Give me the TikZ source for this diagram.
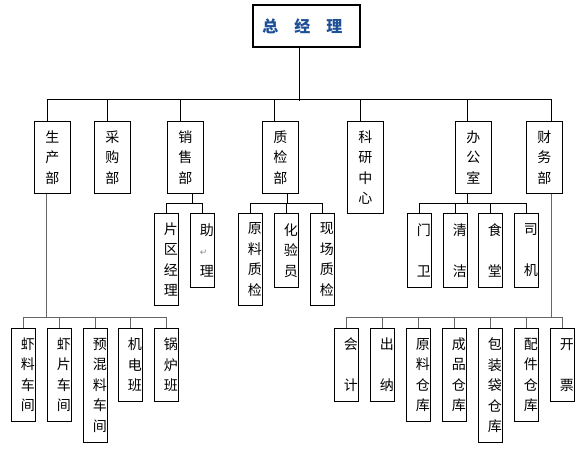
\documentclass[tikz,border=0pt]{standalone}
\usepackage{fontspec}
\setmainfont{Noto Sans CJK SC}
\newfontfamily\symfont{DejaVu Sans}
\definecolor{titleblue}{RGB}{30,80,150}

\begin{document}
\begin{tikzpicture}[
  x=1pt, y=-1pt,
  head/.style={rectangle, draw, line width=1.6pt, anchor=north west, minimum width=107pt, minimum height=42pt, font=\fontsize{16}{18}\selectfont\bfseries, text=titleblue},
  dept/.style={rectangle, draw, line width=0.8pt, anchor=north west, minimum width=36pt, minimum height=72pt, inner sep=0pt, align=center, font=\fontsize{14}{20.5}\selectfont},
  unit/.style={rectangle, draw, line width=0.8pt, anchor=north west, minimum width=24pt, inner sep=0pt, text width=23pt, align=right, font=\fontsize{14}{20.5}\selectfont},
  line/.style={draw, line width=0.8pt},
  gline/.style={draw, black!60, line width=1pt}
]
\useasboundingbox (0,0) rectangle (580,454);

\node[head] (gm) at (252,4) {\raisebox{-4pt}{总\hspace{16pt}经\hspace{16pt}理}\hspace*{8pt}};

\node[dept] (sc) at (34,121) {生\\产\\部};
\node[dept] (cg) at (94,121) {采\\购\\部};
\node[dept] (xs) at (167,121) {销\\售\\部};
\node[dept] (zj) at (262,121) {质\\检\\部};
\node[dept, minimum height=92pt] (ky) at (347,121) {科\\研\\中\\心};
\node[dept] (bg) at (455,121) {办\\公\\室};
\node[dept] (cw) at (526,121) {财\\务\\部};

\node[unit, minimum height=92pt] (pq) at (154,213) {片\\区\\经\\理};
\node[unit, minimum height=74pt] (zl) at (190,213) {助\\\makebox[14pt][l]{\symfont\color{black!45}\small ↵}\\理};

\node[unit, minimum height=92pt] (ylzj) at (238,213) {原\\料\\质\\检};
\node[unit, minimum height=74pt] (hy) at (274,213) {化\\验\\员};
\node[unit, minimum height=92pt] (xczj) at (310,213) {现\\场\\质\\检};

\node[unit, minimum height=74pt] (mw) at (407,213) {门\\\mbox{}\\卫};
\node[unit, minimum height=74pt] (qj) at (443,213) {清\\\mbox{}\\洁};
\node[unit, minimum height=74pt] (st) at (478,213) {食\\\mbox{}\\堂};
\node[unit, minimum height=74pt] (sj) at (514,213) {司\\\mbox{}\\机};

\node[unit, minimum height=93pt] (xl) at (11,328) {虾\\料\\车\\间};
\node[unit, minimum height=93pt] (xp) at (47,328) {虾\\片\\车\\间};
\node[unit, minimum height=114pt] (yhl) at (83,328) {预\\混\\料\\车\\间};
\node[unit, minimum height=73pt] (jd) at (118,328) {机\\电\\班};
\node[unit, minimum height=73pt] (gl) at (154,328) {锅\\炉\\班};

\node[unit, minimum height=73pt] (kj) at (334,328) {会\\\mbox{}\\计};
\node[unit, minimum height=73pt] (cn) at (370,328) {出\\\mbox{}\\纳};
\node[unit, minimum height=93pt] (ylck) at (406,328) {原\\料\\仓\\库};
\node[unit, minimum height=93pt] (cpck) at (442,328) {成\\品\\仓\\库};
\node[unit, minimum height=114pt] (bzd) at (478,328) {包\\装\\袋\\仓\\库};
\node[unit, minimum height=93pt] (pjck) at (514,328) {配\\件\\仓\\库};
\node[unit, minimum height=73pt] (kp) at (550,328) {开\\\mbox{}\\票};

\path[line] ([xshift=-6.5pt]gm.south) -- ++(0,53);
\path[line] ([xshift=-5.5pt]sc.north) -- ++(0,-22) -| ([xshift=7pt]cw.north);
\foreach \n/\s in {cg/-5, xs/-5.5, zj/-6, ky/-5.5, bg/-6.5}
  \path[line] ([xshift=\s pt]\n.north) -- ++(0,-22);

\path[line] ([xshift=6.5pt]xs.south) -- ++(0,10);
\path[line] (pq.north) -- ++(0,-10) -| (zl.north);

\path[line] ([xshift=7pt]zj.south) -- ++(0,10);
\path[line] (ylzj.north) -- ++(0,-10) -| (xczj.north);
\path[line] (hy.north) -- ++(0,-10);

\path[line] ([xshift=-6pt]bg.south) -- ++(0,10);
\path[line] (mw.north) -- ++(0,-10) -| (sj.north);
\foreach \n in {qj, st}
  \path[line] (\n.north) -- ++(0,-10);

\path[gline] ([xshift=-5.5pt]sc.south) -- ++(0,124);
\path[gline] (xl.north) -- ++(0,-11) -| (gl.north);
\foreach \n in {xp, yhl, jd}
  \path[gline] (\n.north) -- ++(0,-11);

\path[gline] ([xshift=7pt]cw.south) -- ++(0,124);
\path[gline] (kj.north) -- ++(0,-11) -| (kp.north);
\foreach \n in {cn, ylck, cpck, bzd, pjck}
  \path[gline] (\n.north) -- ++(0,-11);

\end{tikzpicture}
\end{document}
